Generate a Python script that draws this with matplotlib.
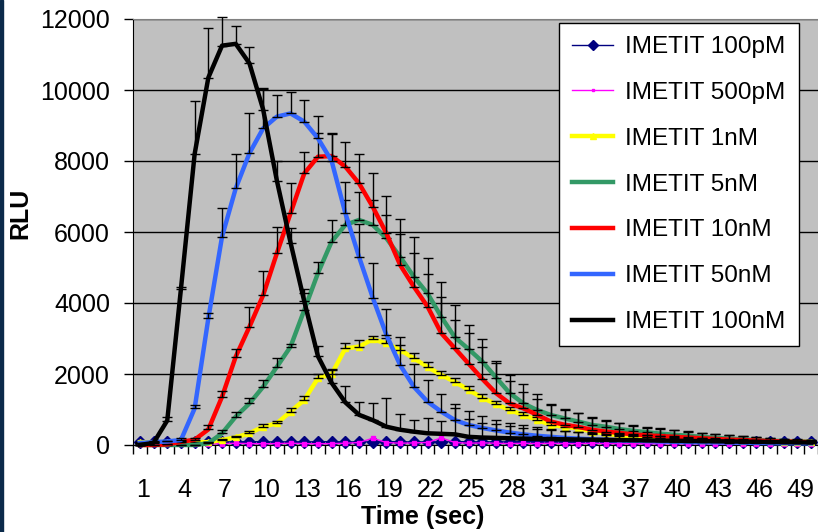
import numpy as np
import matplotlib.pyplot as plt
import matplotlib.transforms as mtransforms
from matplotlib.patches import Rectangle

plt.rcParams['font.family'] = ['Liberation Sans', 'DejaVu Sans']

# time points (sec)
times = list(range(1, 51))
tick_labels = [str(t) for t in range(1, 50, 3)]

# mean RLU per concentration
pm100 = [90, 85, 90, 95, 90, 85, 90, 85, 95, 90,
         85, 90, 85, 95, 90, 85, 90, 85, 95, 90,
         85, 90, 85, 95, 90, 85, 90, 85, 95, 90,
         85, 90, 85, 95, 90, 85, 90, 85, 95, 90,
         85, 90, 85, 95, 90, 85, 90, 85, 95, 90]
pm500 = [30, 35, 30, 40, 35, 30, 40, 50, 40, 35,
         40, 50, 40, 35, 40, 50, 70, 190, 70, 50,
         60, 70, 200, 70, 50, 60, 50, 40, 50, 40,
         50, 40, 40, 50, 40, 40, 35, 40, 35, 40,
         35, 40, 35, 30, 35, 30, 35, 30, 30, 30]
nm1 = [80, 80, 80, 80, 80, 80, 140, 215, 330, 515,
       610, 940, 1270, 1880, 2000, 2720, 2770, 2980, 2860, 2680,
       2440, 2200, 1970, 1780, 1550, 1330, 1150, 985, 845, 705,
       565, 515, 470, 375, 330, 260, 240, 220, 200, 180,
       165, 150, 140, 130, 120, 110, 100, 95, 90, 85]
nm5 = [0, 0, 0, 0, 0, 50, 330, 800, 1170, 1640,
       2200, 2770, 3800, 4840, 5730, 6200, 6340, 6200, 5820, 5300,
       4740, 4270, 3610, 3030, 2700, 2350, 1900, 1460, 1170, 985,
       845, 750, 660, 565, 515, 450, 400, 360, 320, 290,
       260, 230, 200, 180, 160, 140, 120, 110, 100, 90]
nm10 = [0, 0, 20, 90, 150, 440, 1360, 2490, 3330, 4220,
        5400, 6530, 7650, 8120, 8140, 7840, 7370, 6710, 5960, 5070,
        4460, 3900, 3150, 2720, 2290, 1860, 1460, 1170, 1030, 850,
        660, 570, 510, 430, 380, 340, 300, 270, 250, 230,
        210, 190, 170, 150, 140, 125, 110, 100, 90, 80]
nm50 = [60, 80, 100, 140, 1030, 3570, 5870, 7230, 8220, 8920,
        9250, 9340, 9110, 8640, 8000, 6530, 5300, 4150, 3100, 2250,
        1640, 1220, 940, 700, 565, 480, 410, 350, 300, 260,
        230, 200, 180, 160, 145, 130, 120, 110, 100, 90,
        85, 80, 75, 70, 65, 60, 55, 50, 50, 45]
nm100 = [0, 60, 690, 4400, 8200, 10350, 11250, 11300, 10750, 9450,
         7450, 5700, 4050, 2500, 1750, 1200, 850, 700, 515, 430,
         375, 330, 315, 300, 230, 210, 200, 190, 180, 170,
         165, 160, 155, 150, 145, 140, 135, 130, 125, 120,
         115, 110, 105, 100, 95, 90, 85, 80, 75, 70]

# upper error (SD)
nm1_err = [0, 0, 0, 0, 0, 0, 30, 50, 60, 80,
           80, 100, 100, 120, 150, 150, 200, 100, 150, 150,
           150, 150, 120, 120, 100, 100, 100, 90, 90, 80,
           80, 70, 70, 60, 60, 50, 50, 50, 40, 40,
           40, 30, 30, 30, 30, 20, 20, 20, 20, 20]
nm5_err = [0, 0, 0, 0, 0, 30, 80, 120, 150, 200,
           250, 80, 470, 320, 620, 700, 800, 700, 650, 650,
           660, 560, 550, 500, 450, 420, 400, 350, 330, 300,
           280, 260, 240, 220, 200, 180, 170, 160, 150, 140,
           130, 120, 110, 100, 90, 80, 70, 60, 50, 40]
nm10_err = [0, 0, 0, 30, 60, 120, 150, 210, 570, 690,
            750, 840, 590, 660, 660, 700, 840, 960, 1050, 1310,
            1390, 1370, 1450, 1220, 1100, 1130, 900, 800, 700, 600,
            500, 420, 380, 340, 300, 270, 240, 220, 200, 180,
            160, 150, 140, 120, 110, 100, 90, 80, 70, 60]
nm50_err = [0, 0, 20, 50, 100, 150, 820, 970, 1140, 1100,
            600, 610, 620, 630, 750, 890, 920, 970, 740, 800,
            650, 600, 500, 450, 400, 350, 300, 280, 260, 240,
            220, 200, 180, 160, 150, 140, 130, 120, 110, 100,
            90, 80, 70, 60, 60, 50, 50, 40, 40, 30]
nm100_err = [0, 40, 100, 60, 1500, 1400, 800, 500, 450, 600,
             550, 400, 350, 300, 350, 460, 370, 490, 820, 440,
             320, 440, 360, 745, 490, 420, 380, 340, 300, 270,
             250, 230, 210, 190, 170, 160, 150, 140, 130, 120,
             110, 100, 90, 80, 70, 60, 60, 50, 50, 40]

fig = plt.figure(figsize=(8.18, 5.32), dpi=100)
ax = fig.add_axes([133/818, 87/532, 685/818, 426/532])
ax.set_facecolor('#C0C0C0')

x = np.array(times)

def series(y, err, color, lw, label, marker=None, ms=0):
    ax.plot(x, y, color=color, lw=lw, marker=marker, ms=ms,
            mec=color, mfc=color, label=label, clip_on=False, zorder=3)
    if err is not None:
        ax.errorbar(x, y, yerr=[np.zeros(len(err)), err], fmt='none',
                    ecolor='black', elinewidth=1, capsize=3.5, capthick=1,
                    clip_on=False, zorder=3)

series(pm100, None, '#000080', 1, 'IMETIT 100pM', 'D', 6.5)
series(pm500, None, '#FF00FF', 1, 'IMETIT 500pM', 's', 2.5)
series(nm1, nm1_err, '#FFFF00', 3.2, 'IMETIT 1nM', '^', 5)
series(nm5, nm5_err, '#339966', 3.2, 'IMETIT 5nM')
series(nm10, nm10_err, '#FF0000', 3.2, 'IMETIT 10nM')
series(nm50, nm50_err, '#3366FF', 3.2, 'IMETIT 50nM')
series(nm100, nm100_err, '#000000', 3.2, 'IMETIT 100nM')

ax.set_xlim(0.5, 50.5)
ax.set_ylim(0, 12000)
ax.set_yticks(range(0, 12001, 2000))
ax.yaxis.grid(True, color='black', lw=1)
ax.set_axisbelow(True)
ax.tick_params(axis='y', direction='out', length=6.5, width=1,
               labelsize=18, pad=10)

# ticks at category boundaries, labels at centres
ax.set_xticks(np.arange(0.5, 51, 1))
ax.set_xticklabels([])
ax.set_xticks(range(1, 50, 3), minor=True)
ax.set_xticklabels(tick_labels, minor=True)
ax.tick_params(axis='x', which='major', direction='out', length=6.5, width=1)
ax.tick_params(axis='x', which='minor', length=0, labelsize=18, pad=24)
shift = mtransforms.ScaledTranslation(3/100, 0, fig.dpi_scale_trans)
for lbl in ax.get_xticklabels(minor=True):
    lbl.set_transform(lbl.get_transform() + shift)

ax.spines['right'].set_visible(False)
ax.spines['top'].set_color('#808080')

fig.text(423/818, 1 - 517/532, 'Time (sec)', ha='center', va='center',
         fontsize=18, fontweight='bold')
fig.text(20/818, 1 - 213/532, 'RLU', ha='center', va='center',
         rotation=90, fontsize=18, fontweight='bold')

leg = ax.legend(loc='upper right', bbox_to_anchor=(799/818, 1 - 22.7/532),
                bbox_transform=fig.transFigure, fontsize=17.5, frameon=True,
                fancybox=False, edgecolor='black', framealpha=1,
                borderaxespad=0, handlelength=1.7, handletextpad=0.5,
                labelspacing=0.98, borderpad=0.55, markerscale=0.8)
leg.get_frame().set_linewidth(1)

# dark edge on the left of the slide
fig.patches.append(Rectangle((0, 0), 2.5/818, 1, transform=fig.transFigure,
                             color='#0B2A4A', zorder=10))

fig.savefig('out.png', dpi=100)
